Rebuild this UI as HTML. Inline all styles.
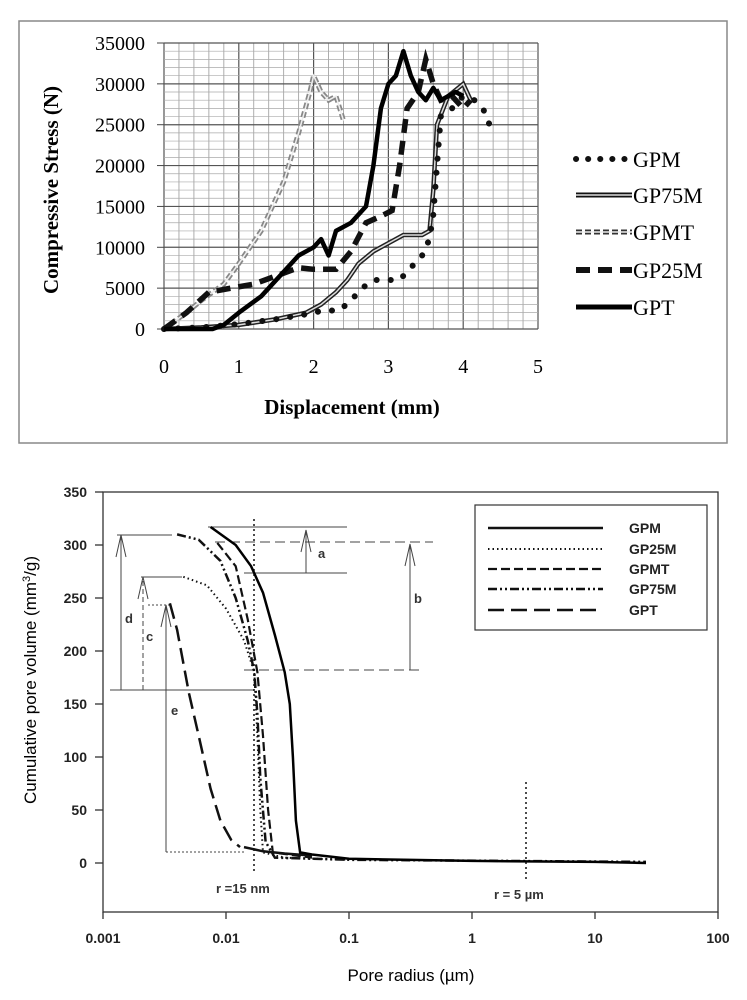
<!DOCTYPE html>
<html><head><meta charset="utf-8">
<style>
html,body{margin:0;padding:0;background:#fff;}
svg{display:block;}
.serif{font-family:"Liberation Serif",serif;}
.sans{font-family:"Liberation Sans",sans-serif;}
</style></head>
<body>
<svg id="root" width="747" height="1000" viewBox="0 0 747 1000">
  <g id="top">
    <rect x="19" y="21" width="708" height="422" fill="#fff" stroke="#888" stroke-width="1.5"/>
    <g id="topGrid"></g>
    <g id="topTicks"></g>
    <g id="topSeries"></g>
    <text class="serif" x="58" y="190" font-size="21" font-weight="bold" text-anchor="middle" transform="rotate(-90 58 190)">Compressive Stress (N)</text>
    <text class="serif" x="352" y="414" font-size="21" font-weight="bold" text-anchor="middle">Displacement (mm)</text>
    <g id="topLegend"></g>
  </g>
  <g id="bottom">
    <rect x="103" y="492" width="615" height="420" fill="none" stroke="#333" stroke-width="1.3"/>
    <g id="botTicks"></g>
    <g id="annot"></g>
    <g id="botSeries"></g>
    <text class="sans" x="36" y="680" font-size="17" text-anchor="middle" transform="rotate(-90 36 680)">Cumulative pore volume (mm<tspan dy="-6" font-size="11">3</tspan><tspan dy="6">/g)</tspan></text>
    <text class="sans" x="411" y="981" font-size="17" text-anchor="middle">Pore radius (µm)</text>
    <g id="botLegend"></g>
  </g>
</svg>
<script>
// ---------- top chart data ----------
const topXTicks = [0,1,2,3,4,5];
const topYTicks = [0,5000,10000,15000,20000,25000,30000,35000];
const gpmtX = [0,0.3,0.5,0.8,1.0,1.3,1.6,1.8,1.95,2.0,2.1,2.2,2.3,2.4];
const gpmtY = [0,2000,3500,5500,8000,12000,18000,24000,29000,31000,29000,28000,28500,25500];
const gp75mX = [0,0.5,1,1.5,1.9,2.1,2.3,2.45,2.6,2.8,3.0,3.2,3.45,3.55,3.6,3.65,3.8,4.0,4.1];
const gp75mY = [0,200,500,1200,2000,3000,4500,6000,8000,9500,10500,11500,11500,12000,17000,25000,28500,30000,28000];
const gpmX = [0,0.5,1,1.5,1.9,2.1,2.35,2.5,2.65,2.8,3.0,3.15,3.3,3.45,3.55,3.6,3.65,3.7,3.85,4.0,4.15,4.3,4.35];
const gpmY = [0,200,600,1200,1800,2200,2300,3500,5000,6000,6000,6000,7500,9000,11000,14000,20000,26000,27000,28500,28000,26500,25000];
const gp25mX = [0,0.3,0.6,0.9,1.2,1.5,1.8,2.0,2.3,2.5,2.7,2.9,3.05,3.15,3.25,3.4,3.5,3.6,3.7,3.85,4.0,4.1];
const gp25mY = [0,2000,4500,5000,5500,6500,7500,7300,7300,9500,13000,13800,14500,20000,27000,29000,33000,30000,28000,28500,27000,28000];
const gptX = [0,0.3,0.65,0.8,1,1.3,1.6,1.8,2.0,2.1,2.2,2.3,2.5,2.7,2.8,2.9,3.0,3.1,3.2,3.3,3.4,3.5,3.6,3.7,3.9,4.0];
const gptY = [0,0,0,500,2000,4000,7000,9000,10000,11000,9000,12000,13000,15000,20000,27000,30000,31000,34000,31000,29000,28000,29500,28000,29000,28500];
const topLegendLabels = ["GPM","GP75M","GPMT","GP25M","GPT"];

// ---------- bottom chart data ----------
const botXTicks = [0.001,0.01,0.1,1,10,100];
const botXTickLabels = ["0.001","0.01","0.1","1","10","100"];
const botYTicks = [0,50,100,150,200,250,300,350];
const bGpmX = [0.0075,0.012,0.016,0.02,0.025,0.03,0.033,0.035,0.037,0.04,0.05,0.1,1,10,26];
const bGpmY = [317,300,280,255,215,180,150,100,40,10,8,4,2,1,0];
const bGp25mX = [0.0045,0.007,0.01,0.014,0.017,0.018,0.019,0.02,0.03,0.1];
const bGp25mY = [270,262,240,210,180,120,50,10,5,3];
const bGpmtX = [0.0085,0.012,0.015,0.018,0.02,0.022,0.024,0.05];
const bGpmtY = [302,280,230,180,120,50,10,5];
const bGp75mX = [0.004,0.006,0.009,0.012,0.015,0.017,0.018,0.019,0.021,0.025,0.1,26];
const bGp75mY = [310,305,285,250,210,180,140,80,20,5,3,1];
const bGptX = [0.0035,0.004,0.005,0.006,0.0075,0.009,0.011,0.013];
const bGptY = [245,220,160,120,70,40,22,15];
const bTailX = [0.014,0.02,0.03,0.05];
const bTailY = [15,11,9,7];
const botLegendLabels = ["GPM","GP25M","GPMT","GP75M","GPT"];

const NS = "http://www.w3.org/2000/svg";
function mk(tag, attrs, parent){const e=document.createElementNS(NS,tag);for(const k in attrs)e.setAttribute(k,attrs[k]);parent.appendChild(e);return e;}

// top axes
const tx = v => 164 + v*74.8;
const ty = v => 329 - v*(286/35000);
const tg = document.getElementById('topGrid');
for(let i=0;i<=25;i++){const v=i*0.2;const l=mk('line',{x1:tx(v),x2:tx(v),y1:ty(0),y2:ty(35000),stroke:i%5==0?'#555':'#999','stroke-width':i%5==0?1.2:0.8},tg);

}
for(let i=0;i<=35;i++){const v=i*1000;const l=mk('line',{x1:tx(0),x2:tx(5),y1:ty(v),y2:ty(v),stroke:i%5==0?'#555':'#aaa','stroke-width':i%5==0?1.2:0.7},tg);

}
const tt = document.getElementById('topTicks');
topYTicks.forEach(v=>{const t=mk('text',{x:145,y:ty(v)+7,'font-size':20,'text-anchor':'end',class:'serif'},tt);t.textContent=v;


const l=mk('line',{x1:157,x2:164,y1:ty(v),y2:ty(v),stroke:'#444'},tt);

});
topXTicks.forEach(v=>{const t=mk('text',{x:tx(v),y:373,'font-size':20,'text-anchor':'middle',class:'serif'},tt);t.textContent=v;

});

function pathD(xs,ys,fx,fy){return xs.map((x,i)=>(i?'L':'M')+fx(x).toFixed(1)+','+fy(ys[i]).toFixed(1)).join(' ');}
const ts = document.getElementById('topSeries');
let p;
p=mk('path',{d:pathD(gpmtX,gpmtY,tx,ty),fill:'none',stroke:'#888','stroke-width':5,'stroke-dasharray':'6 3'},ts);


p=mk('path',{d:pathD(gpmtX,gpmtY,tx,ty),fill:'none',stroke:'#eee','stroke-width':1.5},ts);


p=mk('path',{d:pathD(gp75mX,gp75mY,tx,ty),fill:'none',stroke:'#222','stroke-width':4.5},ts);


p=mk('path',{d:pathD(gp75mX,gp75mY,tx,ty),fill:'none',stroke:'#ddd','stroke-width':1.5},ts);


p=mk('path',{d:pathD(gpmX,gpmY,tx,ty),fill:'none',stroke:'#111','stroke-width':6,'stroke-dasharray':'0.1 14','stroke-linecap':'round'},ts);


p=mk('path',{d:pathD(gp25mX,gp25mY,tx,ty),fill:'none',stroke:'#111','stroke-width':5.5,'stroke-dasharray':'14 8'},ts);


p=mk('path',{d:pathD(gptX,gptY,tx,ty),fill:'none',stroke:'#000','stroke-width':4.5,'stroke-linejoin':'round'},ts);



// top legend
const tl = document.getElementById('topLegend');
const tlY=[159,195,232,270,307];
const tlStyles=[
 [{stroke:'#111','stroke-width':6,'stroke-dasharray':'0.1 12','stroke-linecap':'round'}],
 [{stroke:'#111','stroke-width':5},{stroke:'#ddd','stroke-width':1.5}],
 [{stroke:'#333','stroke-width':5,'stroke-dasharray':'6 3'},{stroke:'#eee','stroke-width':1.5}],
 [{stroke:'#111','stroke-width':6,'stroke-dasharray':'14 8'}],
 [{stroke:'#000','stroke-width':5}]];
topLegendLabels.forEach((lab,i)=>{
  const g=mk('g',{},tl);
  
  
  tlStyles[i].forEach(s=>{mk('line',Object.assign({x1:576,x2:632,y1:tlY[i],y2:tlY[i]},s),g);});
  const t=mk('text',{x:633,y:tlY[i]+8,'font-size':22,class:'serif'},g);t.textContent=lab;
});

// bottom axes
const bx = v => 103 + 123*(Math.log10(v)+3);
const by = v => 863 - v*(371/350);
const bt = document.getElementById('botTicks');
botYTicks.forEach(v=>{const l=mk('line',{x1:95,x2:103,y1:by(v),y2:by(v),stroke:'#333','stroke-width':1.3},bt);


const t=mk('text',{x:87,y:by(v)+5,'font-size':14,'font-weight':'bold','text-anchor':'end',class:'sans',fill:'#222'},bt);t.textContent=v;

});
botXTicks.forEach((v,i)=>{const l=mk('line',{x1:bx(v),x2:bx(v),y1:912,y2:919,stroke:'#333','stroke-width':1.3},bt);


const t=mk('text',{x:bx(v),y:943,'font-size':14,'font-weight':'bold','text-anchor':'middle',class:'sans',fill:'#222'},bt);t.textContent=botXTickLabels[i];

});

// annotations (pixel-placed)
const an=document.getElementById('annot');
function ln(x1,y1,x2,y2,extra,name){const l=mk('line',Object.assign({x1,y1,x2,y2,stroke:'#444','stroke-width':1},extra||{}),an);return l;}
function arrow(x,y1,y2,dash,name){ln(x,y1,x,y2,dash?{'stroke-dasharray':'5 3'}:{},name);
 const p=mk('path',{d:`M${x-5},${y2+22} L${x},${y2} L${x+5},${y2+22}`,fill:'none',stroke:'#444','stroke-width':1},an);}
function lbl(x,y,s,name){const t=mk('text',{x,y,'font-size':13,'font-weight':'bold',class:'sans',fill:'#333'},an);t.textContent=s;}
ln(208,527,347,527,{},'level-line-gpm-top');
ln(244,573,347,573,{},'level-line-a-bottom');
arrow(306,573,530,false,'arrow-a'); lbl(318,558,'a','label-a');
ln(215,542,433,542,{'stroke-dasharray':'10 5'},'level-line-b-top');
ln(244,670,421,670,{'stroke-dasharray':'10 5'},'level-line-b-bottom');
arrow(410,670,544,false,'arrow-b'); lbl(414,603,'b','label-b');
ln(117,535,172,535,{},'level-line-d-top');
arrow(121,690,535,false,'arrow-d'); lbl(125,623,'d','label-d');
ln(141,577,182,577,{},'level-line-c-top');
arrow(143,690,577,true,'arrow-c'); lbl(146,641,'c','label-c');
ln(148,605,170,605,{'stroke-dasharray':'2 2'},'level-line-e-top');
arrow(166,852,605,false,'arrow-e'); lbl(171,715,'e','label-e');
ln(110,690,254,690,{},'level-line-common');
ln(166,852,246,852,{'stroke-dasharray':'2 2'},'level-line-e-bottom');
ln(254,519,254,874,{'stroke-dasharray':'2 3','stroke-width':1.5,stroke:'#111'},'marker-15nm');
ln(526,782,526,879,{'stroke-dasharray':'2 3','stroke-width':1.5,stroke:'#111'},'marker-5um');
lbl(216,893,'r =15 nm','label-15nm');
lbl(494,899,'r = 5 µm','label-5um');

// bottom series
const bs=document.getElementById('botSeries');
p=mk('path',{d:pathD(bGp25mX,bGp25mY,bx,by),fill:'none',stroke:'#111','stroke-width':2,'stroke-dasharray':'1.5 3'},bs);


p=mk('path',{d:pathD(bGpmtX,bGpmtY,bx,by),fill:'none',stroke:'#111','stroke-width':2.2,'stroke-dasharray':'9 4'},bs);


p=mk('path',{d:pathD(bGp75mX,bGp75mY,bx,by),fill:'none',stroke:'#111','stroke-width':2.5,'stroke-dasharray':'9 3 2 3 2 3'},bs);


p=mk('path',{d:pathD(bGptX,bGptY,bx,by),fill:'none',stroke:'#111','stroke-width':2.5,'stroke-dasharray':'16 7'},bs);


p=mk('path',{d:pathD(bTailX,bTailY,bx,by),fill:'none',stroke:'#111','stroke-width':2.5},bs);


p=mk('path',{d:pathD(bGpmX,bGpmY,bx,by),fill:'none',stroke:'#000','stroke-width':2.5},bs);



// bottom legend
const bl=document.getElementById('botLegend');
const fr=mk('rect',{x:475,y:505,width:232,height:125,fill:'#fff',stroke:'#333','stroke-width':1.2},bl);


const blY=[528,549,569,589,610];
const blSt=[{'stroke-width':2.5},{'stroke-width':2,'stroke-dasharray':'1.5 3'},{'stroke-width':2.2,'stroke-dasharray':'9 4'},{'stroke-width':2.5,'stroke-dasharray':'9 3 2 3 2 3'},{'stroke-width':2.5,'stroke-dasharray':'16 7'}];
botLegendLabels.forEach((lab,i)=>{
  const g=mk('g',{},bl);
  
  
  mk('line',Object.assign({x1:488,x2:603,y1:blY[i],y2:blY[i],stroke:'#111'},blSt[i]),g);
  const t=mk('text',{x:629,y:blY[i]+5,'font-size':14,'font-weight':'bold',class:'sans',fill:'#222'},g);t.textContent=lab;
});
</script>
</body></html>
